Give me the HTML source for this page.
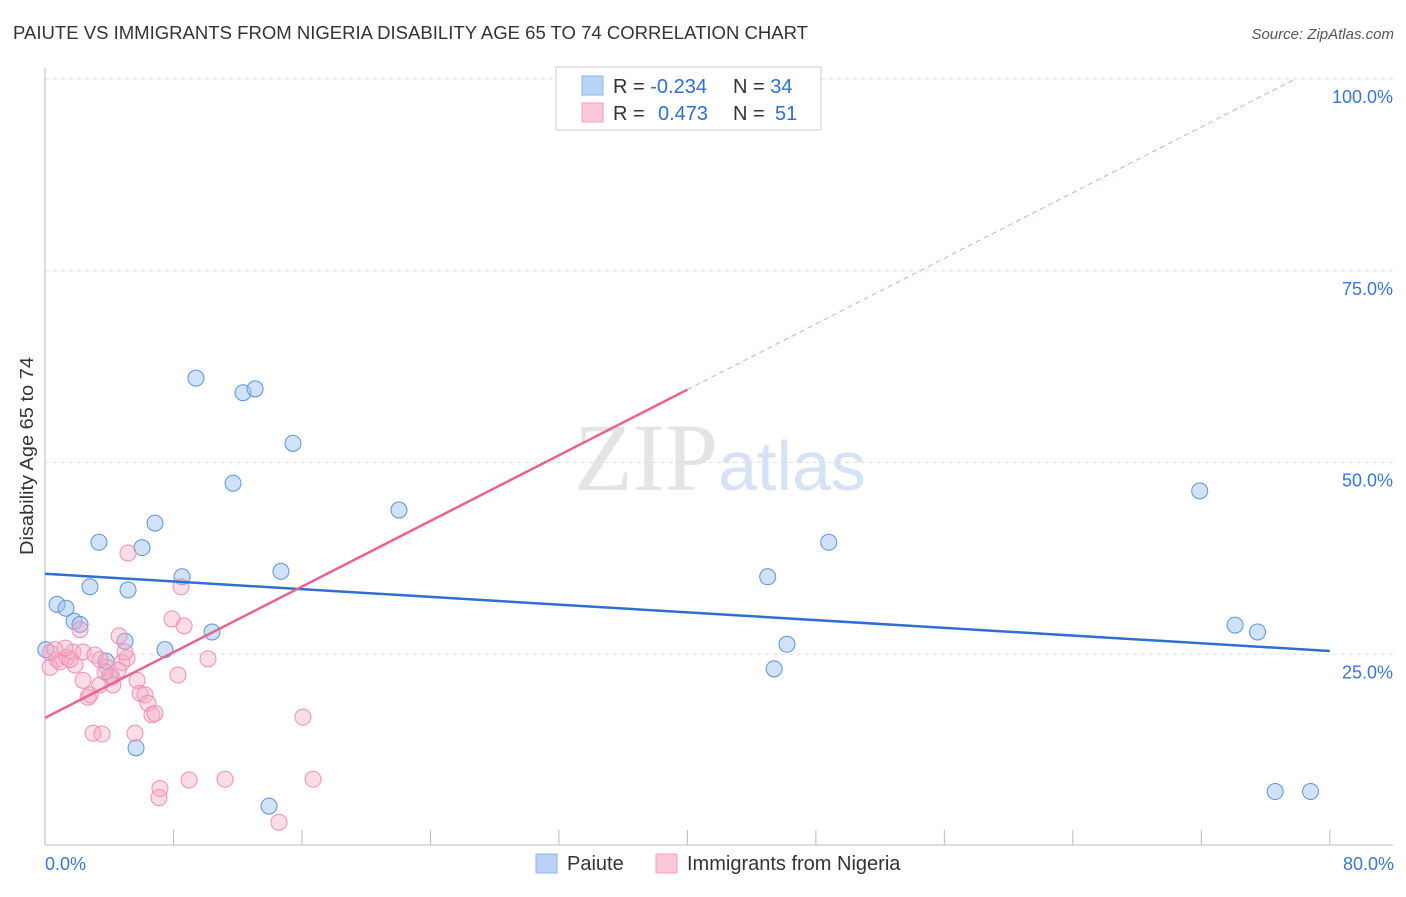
<!DOCTYPE html>
<html><head><meta charset="utf-8"><style>
body{margin:0;background:#fff;font-family:"Liberation Sans",sans-serif;}
</style></head><body>
<svg id="chart" width="1406" height="892" xmlns="http://www.w3.org/2000/svg" font-family="Liberation Sans, sans-serif">
<text x="13" y="39" font-size="18" fill="#333" textLength="795" lengthAdjust="spacingAndGlyphs">PAIUTE VS IMMIGRANTS FROM NIGERIA DISABILITY AGE 65 TO 74 CORRELATION CHART</text>
<text x="1394" y="39" font-size="15" fill="#555" text-anchor="end" font-style="italic">Source: ZipAtlas.com</text>
<text transform="translate(33,456) rotate(-90)" font-size="18" fill="#333" text-anchor="middle" textLength="198" lengthAdjust="spacingAndGlyphs">Disability Age 65 to 74</text>
<text x="720" y="490" font-size="96" fill="#e4e4e4" text-anchor="middle" font-family="Liberation Serif, serif">ZIP<tspan fill="#d6e3f5" font-family="Liberation Sans, sans-serif" font-size="70">atlas</tspan></text>
<g id="grid"></g><g id="marks"></g><g id="lines"></g>
<g>
<rect x="556" y="67" width="265" height="63" fill="#fff" stroke="#ccc"/>
<rect x="582" y="76" width="21" height="19" fill="#b8d3f5" stroke="#8fb5e8"/>
<rect x="582" y="103" width="21" height="19" fill="#fbc8d8" stroke="#f0a0ba"/>
<text x="613" y="93" font-size="20" fill="#333">R = <tspan fill="#2f6fd0">-0.234</tspan><tspan x="733">N = </tspan><tspan fill="#2f6fd0">34</tspan></text>
<text x="613" y="120" font-size="20" fill="#333">R = <tspan x="658" fill="#2f6fd0">0.473</tspan><tspan x="733">N = </tspan><tspan x="775" fill="#2f6fd0">51</tspan></text>
</g>
<g>
<rect x="536" y="854" width="21" height="19" fill="#b8d3f5" stroke="#8fb5e8"/>
<text x="567" y="870" font-size="20" fill="#333">Paiute</text>
<rect x="656" y="854" width="21" height="19" fill="#fbc8d8" stroke="#f0a0ba"/>
<text x="687" y="870" font-size="20" fill="#333">Immigrants from Nigeria</text>
</g>
<text x="45" y="870" font-size="18" fill="#3a76d0">0.0%</text>
<text x="1394" y="870" font-size="18" fill="#3a76d0" text-anchor="end">80.0%</text>
</svg>
<script>
const yTicks=[25,50,75,100];
const xTicks=[0,8,16,24,32,40,48,56,64,72,80];
const paiuteX=[9.40,12.33,13.08,15.44,11.71,22.04,6.85,3.36,6.04,2.80,5.17,8.53,14.69,0.75,1.31,1.81,2.18,10.40,4.98,7.47,0.05,3.80,4.05,5.67,13.95,45.0,48.8,46.2,45.4,71.9,74.1,75.5,76.6,78.8];
const paiuteY=[61.0,59.1,59.6,52.5,47.3,43.8,42.1,39.6,38.9,33.8,33.4,35.1,35.8,31.5,31.0,29.3,28.9,27.9,26.7,25.6,25.6,24.1,22.2,12.8,5.2,35.1,39.6,26.3,23.1,46.3,28.8,27.9,7.1,7.1];
const nigeriaX=[5.17,8.47,7.91,8.66,4.61,2.18,10.15,8.28,16.06,2.99,3.55,5.60,7.16,7.10,8.97,11.21,16.69,14.57,35.9,0.31,0.75,1.37,1.74,2.37,3.11,1.87,0.31,0.93,1.56,2.37,2.68,2.80,3.86,4.17,4.23,4.79,5.11,4.98,5.73,5.92,6.23,6.41,6.66,6.85,3.42,3.74,1.25,0.62,3.42,4.55];
const nigeriaY=[38.2,33.8,29.6,28.7,27.4,28.2,24.4,22.3,16.8,14.7,14.6,14.7,7.5,6.3,8.6,8.7,8.7,3.1,100.2,25.2,24.3,24.6,25.3,25.3,24.9,23.6,23.3,24.0,24.3,21.6,19.4,19.7,23.3,22.0,21.0,23.9,24.5,25.3,21.6,19.9,19.7,18.6,17.1,17.3,21.0,22.7,25.8,25.6,24.3,22.9];
const paiuteTrend=[35.5,-0.126];   // intercept, slope
const nigeriaTrend=[16.7,1.07];
const NS="http://www.w3.org/2000/svg";
const X=v=>45+v*16.06, Y=v=>846-v*7.67;
function mk(tag,attrs,parent){const e=document.createElementNS(NS,tag);for(const k in attrs)e.setAttribute(k,attrs[k]);parent.appendChild(e);return e;}
const grid=document.getElementById('grid'),marks=document.getElementById('marks'),lines=document.getElementById('lines');
yTicks.forEach(t=>{
  const l=mk('line',{x1:45,x2:1393,y1:Y(t),y2:Y(t),stroke:'#ddd','stroke-dasharray':'4,4'},grid);
  
  
  const tx=mk('text',{x:1393,y:Y(t)+24,'font-size':18,fill:'#3a76d0','text-anchor':'end'},grid);
  tx.textContent=t.toFixed(1)+'%';
  
  
});
const ax=mk('line',{x1:45,x2:45,y1:68,y2:845,stroke:'#bbb'},grid);


const bx=mk('line',{x1:45,x2:1393,y1:845,y2:845,stroke:'#bbb'},grid);


xTicks.forEach(t=>{
  const l=mk('line',{x1:X(t),x2:X(t),y1:830,y2:845,stroke:'#bbb'},grid);
  
  
});
paiuteX.forEach((v,i)=>{
  const c=mk('circle',{cx:X(v),cy:Y(paiuteY[i]),r:8,fill:'rgba(150,190,240,0.45)',stroke:'#5b93dc','stroke-width':1},marks);
  
  
});
nigeriaX.forEach((v,i)=>{
  const c=mk('circle',{cx:X(v),cy:Y(nigeriaY[i]),r:8,fill:'rgba(248,170,195,0.4)',stroke:'#ef8fb0','stroke-width':1},marks);
  
  
});
const pl=mk('line',{x1:X(0),y1:Y(paiuteTrend[0]),x2:X(80),y2:Y(paiuteTrend[0]+80*paiuteTrend[1]),stroke:'#2f6fd0','stroke-width':2.5},lines);


const nl=mk('line',{x1:X(0),y1:Y(nigeriaTrend[0]),x2:X(40),y2:Y(nigeriaTrend[0]+40*nigeriaTrend[1]),stroke:'#e8638f','stroke-width':2.5},lines);


const xe=(100-nigeriaTrend[0])/nigeriaTrend[1];
const nd=mk('line',{x1:X(40),y1:Y(nigeriaTrend[0]+40*nigeriaTrend[1]),x2:X(xe),y2:Y(100),stroke:'#f0a0ba','stroke-width':1,'stroke-dasharray':'5,4'},lines);


</script>
</body></html>
